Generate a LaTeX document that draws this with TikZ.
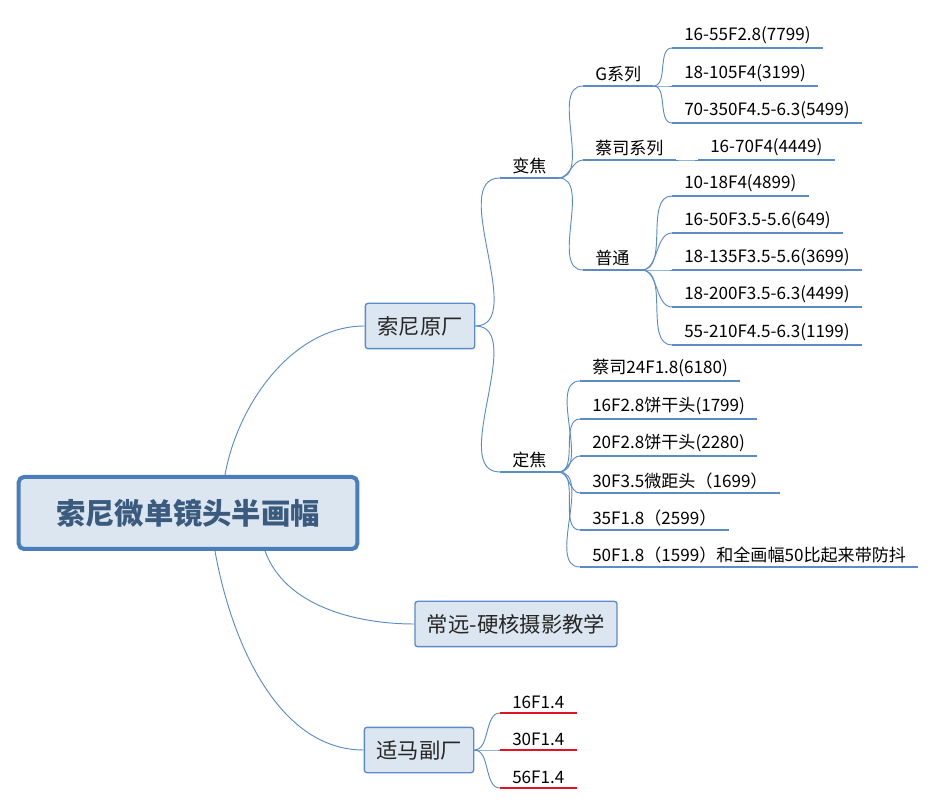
\documentclass[tikz,border=0pt]{standalone}
\usepackage{fontspec}
\setmainfont{Noto Sans CJK SC}
\usepackage{tikz}

\definecolor{lineblue}{HTML}{5B8CC8}
\definecolor{boxfill}{HTML}{DCE6F1}
\definecolor{rootblue}{HTML}{4A7EBB}
\definecolor{roottext}{HTML}{3A5A7E}
\definecolor{leafred}{HTML}{E0141E}

\tikzset{
  leaf/.style={anchor=south west,inner xsep=9pt,inner ysep=3pt,font=\fontsize{12.8}{14}\selectfont,
    append after command={(\tikzlastnode.south west) edge[draw=#1,line width=1.6pt] (\tikzlastnode.south east)}},
  leaf/.default=lineblue,
  topic/.style={draw=lineblue,fill=boxfill,rounded corners=2pt,line width=1pt,inner xsep=9pt,
    font=\fontsize{16}{18}\selectfont,text=black!85,minimum height=34pt},
  branch/.style={draw=lineblue,line width=0.7pt,out=0,in=180,looseness=0.9},
}

\begin{document}
\begin{tikzpicture}[x=0.75pt,y=-0.75pt]
\useasboundingbox (0,0) rectangle (940,805);

\node[draw=rootblue,fill=boxfill,rounded corners=4pt,line width=3pt,minimum width=254pt,minimum height=54pt,
  font=\fontsize{22}{24}\bfseries\selectfont,text=roottext] (root) at (188,513) {索尼微单镜头半画幅};
\node[topic] (sony) at (420,326) {索尼原厂};
\node[topic] (cy) at (516,624) {常远-硬核摄影教学};
\node[topic] (sigma) at (419,750) {适马副厂};

\draw[branch] (root.north)++(37,0) to[out=80,in=180] (sony.west);
\draw[branch] (root.south)++(77,0) to[out=-70,in=180] (cy.west);
\draw[branch] (root.south)++(27,0) to[out=-80,in=180] (sigma.west);

% zoom / prime
\node[leaf] (zoom) at (500,178) {变焦};
\node[leaf] (prime) at (500,472) {定焦};
\draw[branch] (sony.east) to (zoom.south west);
\draw[branch] (sony.east) to (prime.south west);

\node[leaf] (gser) at (583,86) {G系列};
\node[leaf] (zeiss) at (583,160) {蔡司系列};
\node[leaf] (plain) at (583,270) {普通\hspace{12pt}};
\foreach \n in {gser,zeiss,plain}
  \draw[branch] (zoom.south east) to (\n.south west);

\node[leaf] (g1) at (672,48) {16-55F2.8(7799)};
\node[leaf] (g2) at (672,86) {18-105F4(3199)};
\node[leaf] (g3) at (672,123) {70-350F4.5-6.3(5499)};
\foreach \n in {g1,g2,g3}
  \draw[branch] (gser.south east) to (\n.south west);

\node[leaf] (z1) at (698,160) {16-70F4(4449)};
\draw[branch] (zeiss.south east) to (z1.south west);

\node[leaf] (p1) at (672,196) {10-18F4(4899)};
\node[leaf] (p2) at (672,233) {16-50F3.5-5.6(649)\hspace{14pt}};
\node[leaf] (p3) at (672,270) {18-135F3.5-5.6(3699)};
\node[leaf] (p4) at (672,307) {18-200F3.5-6.3(4499)};
\node[leaf] (p5) at (672,345) {55-210F4.5-6.3(1199)};
\foreach \n in {p1,p2,p3,p4,p5}
  \draw[branch] (plain.south east) to (\n.south west);

\node[leaf] (f1) at (580,381) {蔡司24F1.8(6180)};
\node[leaf] (f2) at (580,419) {16F2.8饼干头(1799)};
\node[leaf] (f3) at (580,456) {20F2.8饼干头(2280)};
\node[leaf] (f4) at (580,493) {30F3.5微距头（1699）};
\node[leaf] (f5) at (580,530) {35F1.8（2599）};
\node[leaf] (f6) at (580,567) {50F1.8（1599）和全画幅50比起来带防抖};
\foreach \n in {f1,f2,f3,f4,f5,f6}
  \draw[branch] (prime.south east) to (\n.south west);

% sigma
\node[leaf=leafred] (s1) at (500,713) {16F1.4};
\node[leaf=leafred] (s2) at (500,750) {30F1.4};
\node[leaf=leafred] (s3) at (500,788) {56F1.4};
\foreach \n in {s1,s2,s3}
  \draw[branch] (sigma.east) to (\n.south west);
\end{tikzpicture}
\end{document}
